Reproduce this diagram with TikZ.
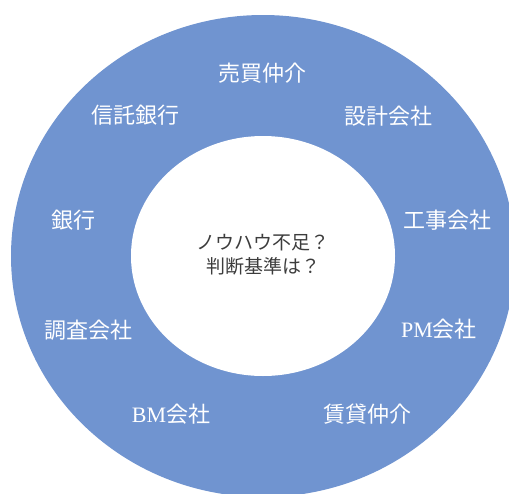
\documentclass[tikz,border=0pt]{standalone}
\usepackage{fontspec}
\setmainfont{Liberation Serif}
\newfontfamily\cjk{Noto Sans CJK JP}
\definecolor{ringblue}{RGB}{112,148,208}
\definecolor{midgray}{RGB}{60,60,60}
\tikzset{
    player/.style={text=white, font=\fontsize{22}{26}\selectfont\cjk, inner sep=0pt},
    question/.style={text=midgray, font=\fontsize{19}{24}\selectfont\cjk, align=center, inner sep=0pt}
}
\begin{document}
\begin{tikzpicture}[x=1pt,y=-1pt]

        \useasboundingbox (0,0) rectangle (509,493);
        \clip (0,0) rectangle (509,493);

        %ring
        \fill[ringblue] (263,256) ellipse [x radius=252, y radius=241];
        \fill[white] (263,256) ellipse [x radius=132, y radius=120];

        %center
        \node[question] (q) at (263,255) {ノウハウ不足？\\判断基準は？};

        %players
        \node[player] (baibai)   at (262,73)  {売買仲介};
        \node[player] (shintaku) at (135,115) {信託銀行};
        \node[player] (sekkei)   at (388,116) {設計会社};
        \node[player] (ginko)    at (73,220)  {銀行};
        \node[player] (koji)     at (447,220) {工事会社};
        \node[player] (chosa)    at (88,330)  {調査会社};
        \node[player] (pm)       at (439,329) {{\rmfamily PM}会社};
        \node[player] (bm)       at (171,414) {{\rmfamily BM}会社};
        \node[player] (chintai)  at (367,414) {賃貸仲介};

\end{tikzpicture}
\end{document}
